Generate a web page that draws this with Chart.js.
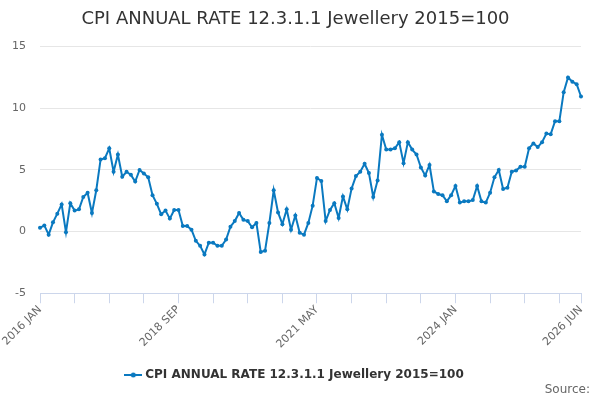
<!DOCTYPE html>
<html>
<head>
<meta charset="utf-8">
<script src="https://cdn.jsdelivr.net/npm/chart.js@4"></script>
<style>
  html, body { margin: 0; padding: 0; background: #fff; }
  #wrap { width: 600px; height: 400px; }
</style>
</head>
<body>
<div id="wrap"><canvas id="c" width="600" height="400"></canvas></div>
<script>
const TITLE = 'CPI ANNUAL RATE 12.3.1.1 Jewellery 2015=100';
const SERIES_NAME = 'CPI ANNUAL RATE 12.3.1.1 Jewellery 2015=100';
const SOURCE_TEXT = 'Source:';
const MONTHS = ['JAN','FEB','MAR','APR','MAY','JUN','JUL','AUG','SEP','OCT','NOV','DEC'];
const YEARS = [2016,2017,2018,2019,2020,2021,2022,2023,2024,2025,2026];
const LAST_MONTH_2026 = 'JUN';
const TICK_LABELS = ['2016 JAN','2018 SEP','2021 MAY','2024 JAN','2026 JUN'];
const Y_TICKS = [-5, 0, 5, 10, 15];

const categories = [];
for (const y of YEARS) {
  for (const m of MONTHS) {
    categories.push(y + ' ' + m);
    if (y === 2026 && m === LAST_MONTH_2026) break;
  }
}

const values = [
  0.3, 0.5, -0.25, 0.75, 1.45, 2.2, -0.05, 2.3, 1.7, 1.8, 2.8, 3.15,
  1.5, 3.35, 5.85, 5.95, 6.75, 4.85, 6.25, 4.45, 4.85, 4.6, 4.05, 5.0,
  4.7, 4.4, 2.95, 2.25, 1.4, 1.7, 1.05, 1.75, 1.75, 0.45, 0.45, 0.15,
  -0.75, -1.15, -1.85, -0.9, -0.9, -1.15, -1.15, -0.65, 0.4, 0.85, 1.5, 0.95,
  0.85, 0.35, 0.7, -1.65, -1.55, 0.7, 3.35, 1.55, 0.6, 1.8, 0.15, 1.3,
  -0.1, -0.25, 0.7, 2.1, 4.35, 4.1, 0.85, 1.75, 2.3, 1.1, 2.85, 1.8,
  3.5, 4.5, 4.85, 5.5, 4.75, 2.8, 4.15, 7.85, 6.65, 6.65, 6.75, 7.25,
  5.55, 7.25, 6.65, 6.25, 5.2, 4.55, 5.4, 3.25, 3.05, 2.95, 2.45, 2.95,
  3.7, 2.35, 2.45, 2.45, 2.55, 3.7, 2.45, 2.35, 3.15, 4.4, 5.0, 3.45,
  3.55, 4.85, 4.95, 5.25, 5.25, 6.75, 7.15, 6.85, 7.25, 7.95, 7.9, 8.95,
  8.95, 11.3, 12.5, 12.15, 11.95, 10.95
];

const LINE_COLOR = '#0a79c0';

// legend symbol: short line with a dot
const sym = document.createElement('canvas');
sym.width = 18; sym.height = 8;
(function(){
  const g = sym.getContext('2d');
  g.strokeStyle = LINE_COLOR; g.lineWidth = 2;
  g.beginPath(); g.moveTo(0, 4); g.lineTo(18, 4); g.stroke();
  g.fillStyle = LINE_COLOR;
  g.beginPath(); g.arc(9, 4, 2.5, 0, Math.PI * 2); g.fill();
})();

const sourcePlugin = {
  id: 'sourceText',
  afterDraw(chart) {
    const ctx = chart.ctx;
    ctx.save();
    ctx.font = '12px "DejaVu Sans"';
    ctx.fillStyle = '#666666';
    ctx.textAlign = 'right';
    ctx.textBaseline = 'middle';
    ctx.fillText(SOURCE_TEXT, 590, 390);
    ctx.restore();
  }
};

Chart.defaults.font.family = '"DejaVu Sans", sans-serif';
Chart.defaults.animation = false;

new Chart(document.getElementById('c'), {
  type: 'line',
  data: {
    labels: categories,
    datasets: [{
      label: SERIES_NAME,
      data: values,
      borderColor: LINE_COLOR,
      backgroundColor: LINE_COLOR,
      borderWidth: 2,
      pointRadius: 2,
      pointHoverRadius: 3,
      pointBackgroundColor: LINE_COLOR,
      pointBorderWidth: 0,
      tension: 0,
      fill: false
    }]
  },
  options: {
    responsive: false,
    maintainAspectRatio: false,
    animation: false,
    layout: { padding: { left: 10, right: 19, top: 0, bottom: 9 } },
    plugins: {
      title: {
        display: true,
        text: TITLE,
        color: '#333333',
        font: { size: 18, weight: 'normal' },
        padding: { top: 9, bottom: 16 }
      },
      legend: {
        display: true,
        position: 'bottom',
        labels: {
          color: '#333333',
          font: { size: 12, weight: 'bold' },
          usePointStyle: true,
          padding: 14,
          generateLabels(chart) {
            return [{
              text: SERIES_NAME,
              pointStyle: sym,
              fillStyle: LINE_COLOR,
              strokeStyle: LINE_COLOR,
              lineWidth: 0,
              hidden: false,
              datasetIndex: 0,
              fontColor: '#333333'
            }];
          }
        }
      },
      tooltip: { enabled: false }
    },
    scales: {
      x: {
        type: 'category',
        offset: false,
        grid: {
          display: true,
          drawOnChartArea: false,
          drawTicks: true,
          tickLength: 10,
          color: '#ccd6eb'
        },
        border: { display: true, color: '#ccd6eb', width: 1 },
        afterBuildTicks(scale) {
          const last = categories.length - 1;
          scale.ticks = scale.ticks.filter(t => t.value % 8 === 0 || t.value === last);
        },
        afterFit(scale) { scale.height += 4; },
        ticks: {
          autoSkip: false,
          minRotation: 45,
          maxRotation: 45,
          color: '#666666',
          font: { size: 11 },
          padding: 0,
          callback(value) {
            const lab = categories[value];
            return TICK_LABELS.includes(lab) ? lab : '';
          }
        }
      },
      y: {
        min: -5,
        max: 15,
        afterBuildTicks(scale) {
          scale.ticks = Y_TICKS.map(v => ({ value: v }));
        },
        afterFit(scale) { scale.width = 30; },
        grid: { color: '#e6e6e6', drawTicks: false, lineWidth: 1 },
        border: { display: false },
        ticks: {
          color: '#666666',
          font: { size: 11 },
          padding: 14,
          stepSize: 5
        }
      }
    }
  },
  plugins: [sourcePlugin]
});
</script>
</body>
</html>
